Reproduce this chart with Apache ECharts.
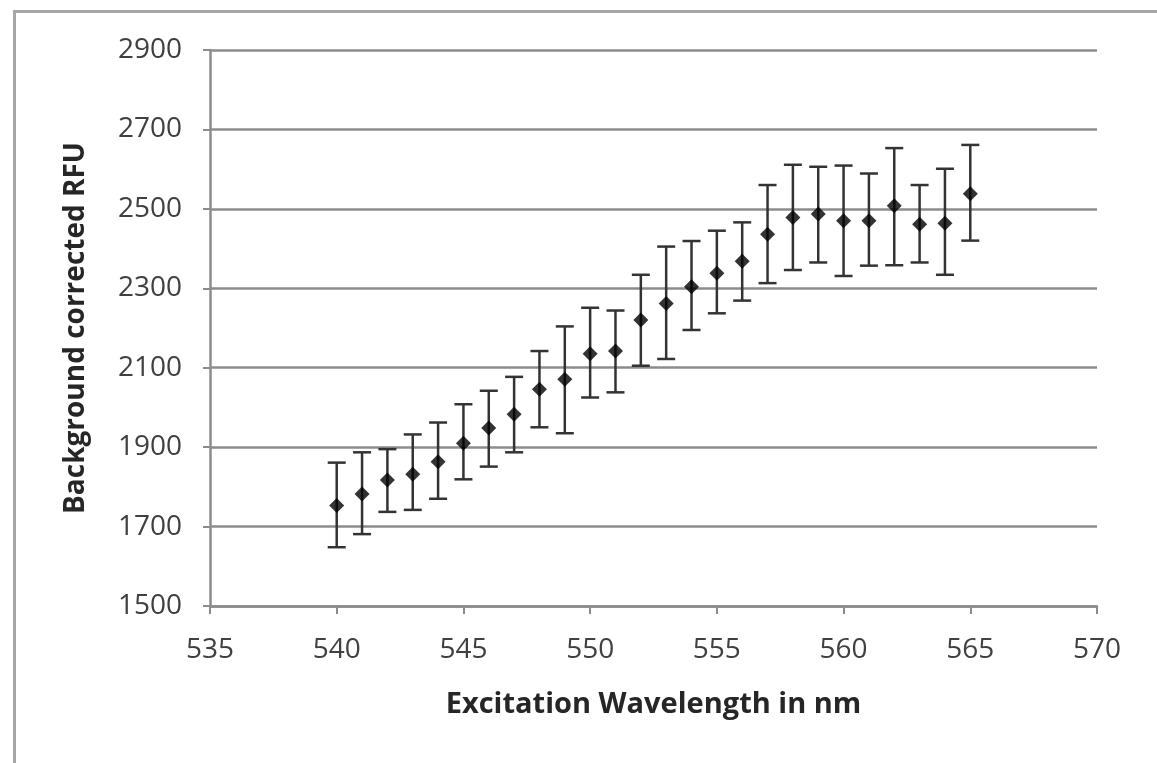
<!DOCTYPE html>
<html>
<head>
<meta charset="utf-8">
<script src="https://cdn.jsdelivr.net/npm/echarts@6/dist/echarts.min.js"></script>
<style>
html,body{margin:0;padding:0;background:#fff;}
#chart{width:1157px;height:763px;}
</style>
</head>
<body>
<div id="chart"></div>
<script>
const wavelengths = [540,541,542,543,544,545,546,547,548,549,550,551,552,553,554,555,556,557,558,559,560,561,562,563,564,565];
const rfu =        [1753,1782,1817,1832,1863,1910,1948,1983,2046,2071,2135,2142,2220,2262,2304,2338,2368,2436,2478,2487,2470,2470,2508,2461,2464,2538];
const errUpper =   [1861,1887,1895,1932,1962,2008,2042,2077,2142,2204,2251,2244,2334,2405,2419,2445,2466,2560,2611,2606,2609,2589,2653,2560,2601,2661];
const errLower =   [1648,1681,1737,1742,1770,1819,1851,1887,1950,1935,2025,2038,2105,2122,2195,2237,2269,2313,2346,2365,2331,2357,2358,2365,2334,2420];
const yTicks = [1500,1700,1900,2100,2300,2500,2700,2900];
const xTicks = [535,540,545,550,555,560,565,570];

const chart = echarts.init(document.getElementById('chart'));
const font = '"Open Sans", "Liberation Sans", sans-serif';

const points = wavelengths.map((w,i)=>[w, rfu[i]]);
const errData = wavelengths.map((w,i)=>[w, errLower[i], errUpper[i]]);

chart.setOption({
  animation:false,
  backgroundColor:'#fff',
  graphic:[{
    type:'rect', left:12, top:9,
    shape:{width:1200, height:800},
    style:{fill:'none', stroke:'#a6a6a6', lineWidth:3},
    silent:true, z:-1
  }],
  grid:{left:210, right:60, top:50, bottom:157, containLabel:false},
  xAxis:{
    type:'value', min:xTicks[0], max:xTicks[xTicks.length-1], interval:5,
    name:'Excitation Wavelength in nm', nameLocation:'middle', nameGap:84,
    nameTextStyle:{fontFamily:font, fontSize:29, fontWeight:'bold', color:'#262626'},
    axisLine:{lineStyle:{color:'#8c8c8c', width:2.5}},
    axisTick:{show:true, length:8, lineStyle:{color:'#8c8c8c', width:2}},
    axisLabel:{fontFamily:font, fontSize:28, color:'#404040', margin:30, formatter:v=>String(v)},
    splitLine:{show:false}
  },
  yAxis:{
    type:'value', min:yTicks[0], max:yTicks[yTicks.length-1], interval:200,
    name:'Background corrected RFU', nameLocation:'middle', nameGap:120,
    nameTextStyle:{fontFamily:font, fontSize:28, fontWeight:'bold', color:'#262626'},
    axisLine:{show:true, lineStyle:{color:'#8c8c8c', width:2.5}},
    axisTick:{show:true, length:7, lineStyle:{color:'#8c8c8c', width:2}},
    axisLabel:{fontFamily:font, fontSize:28, color:'#404040', margin:28, formatter:v=>String(v)},
    splitLine:{show:true, lineStyle:{color:'#8c8c8c', width:2.5}}
  },
  series:[
    {
      type:'custom',
      data:errData,
      renderItem:function(params, api){
        const x = api.value(0);
        const lo = api.coord([x, api.value(1)]);
        const hi = api.coord([x, api.value(2)]);
        const hw = 9;
        const style = {stroke:'#333', lineWidth:2.5};
        return {type:'group', children:[
          {type:'line', shape:{x1:lo[0], y1:lo[1], x2:hi[0], y2:hi[1]}, style:style},
          {type:'line', shape:{x1:hi[0]-hw, y1:hi[1], x2:hi[0]+hw, y2:hi[1]}, style:style},
          {type:'line', shape:{x1:lo[0]-hw, y1:lo[1], x2:lo[0]+hw, y2:lo[1]}, style:style}
        ]};
      },
      z:2
    },
    {
      type:'scatter',
      data:points,
      symbol:'diamond',
      symbolSize:15,
      itemStyle:{color:'#000'},
      z:3
    }
  ]
});
</script>
</body>
</html>
